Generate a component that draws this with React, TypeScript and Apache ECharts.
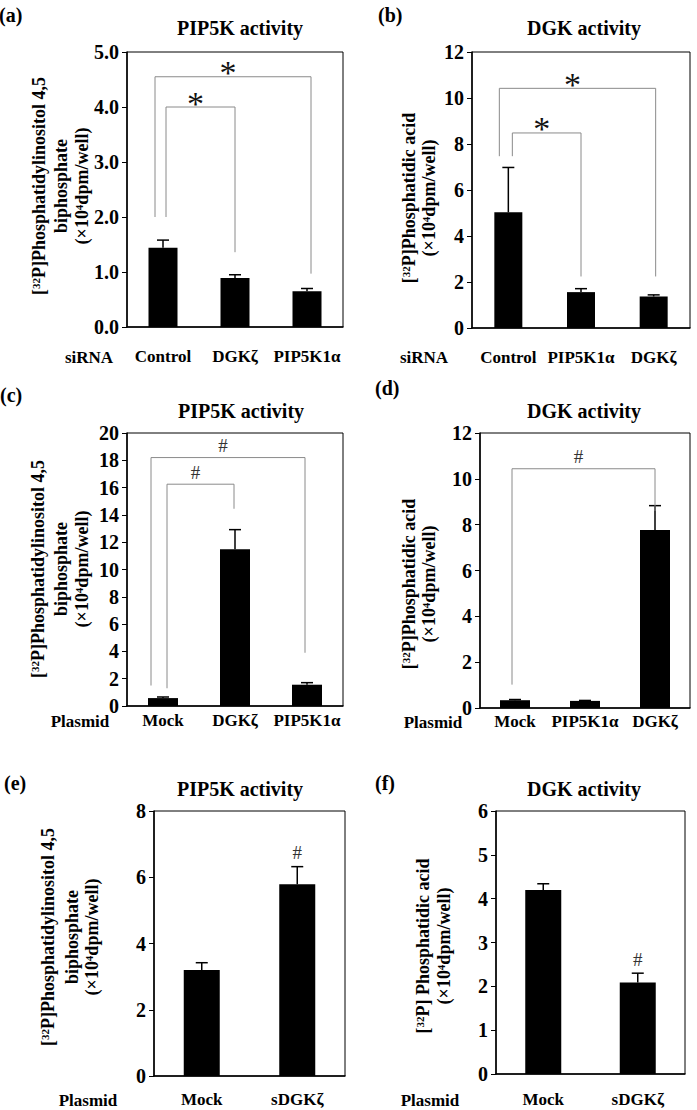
import React, { useEffect, useRef } from 'react';
import * as echarts from 'echarts';

const FONT = "'Liberation Serif', 'Times New Roman', serif";

// ---------- data ----------
const catsA = ['Control', 'DGKζ', 'PIP5K1α'];
const valsA = [1.44, 0.89, 0.65];
const errA = [0.14, 0.06, 0.05];
const bracketsA = [[0, 2, 4.55, 2.0, 0.97], [0, 1, 4.0, 2.0, 1.36]];
const marksA = ['*', '*'];

const catsB = ['Control', 'PIP5K1α', 'DGKζ'];
const valsB = [5.03, 1.56, 1.37];
const errB = [1.95, 0.15, 0.07];
const bracketsB = [[0, 2, 10.42, 7.47, 2.24], [0, 1, 8.48, 7.47, 2.24]];
const marksB = ['*', '*'];

const catsC = ['Mock', 'DGKζ', 'PIP5K1α'];
const valsC = [0.58, 11.48, 1.56];
const errC = [0.08, 1.44, 0.15];
const bracketsC = [[0, 2, 18.2, 1.5, 3.9], [0, 1, 16.25, 1.3, 14.45]];
const marksC = ['#', '#'];

const catsD = ['Mock', 'PIP5K1α', 'DGKζ'];
const valsD = [0.34, 0.31, 7.77];
const errD = [0.03, 0.02, 1.06];
const bracketsD = [[0, 2, 10.44, 1.02, 8.6]];
const marksD = ['#'];

const catsE = ['Mock', 'sDGKζ'];
const valsE = [3.2, 5.79];
const errE = [0.22, 0.53];
const barMarksE = ['', '#'];

const catsF = ['Mock', 'sDGKζ'];
const valsF = [4.2, 2.09];
const errF = [0.14, 0.21];
const barMarksF = ['', '#'];

const yTicksA = { max: 5, step: 1, decimals: 1 };
const yTicksB = { max: 12, step: 2, decimals: 0 };
const yTicksC = { max: 20, step: 2, decimals: 0 };
const yTicksD = { max: 12, step: 2, decimals: 0 };
const yTicksE = { max: 8, step: 2, decimals: 0 };
const yTicksF = { max: 6, step: 1, decimals: 0 };

const NAME_PIP = ['{n|[}{s|32}{n|P]Phosphatidylinositol 4,5}', '{n|biphosphate}', '{n|(×10}{s|4}{n|dpm/well)}'];
const NAME_DGK = ['{n|[}{s|32}{n|P]Phosphatidic acid}', '{n|(×10}{s|4}{n|dpm/well)}'];
const NAME_DGK2 = ['{n|[}{s|32}{n|P] Phosphatidic acid}', '{n|(×10}{s|4}{n|dpm/well)}'];

// ---------- layout ----------
const panels = [
  {
    tag: '(a)', title: 'PIP5K activity', row: 'siRNA', name: NAME_PIP,
    cats: catsA, vals: valsA, errs: errA, brackets: bracketsA, marks: marksA, barMarks: null, ticks: yTicksA,
    grid: { left: 127, top: 52, width: 216, height: 275 }, barWidth: 29,
    legOff: [[-8, 4], [3, 0]], labelMargin: 21,
    nameX: [39, 61, 82], nameY: 186,
    titlePos: [240, 28], tagPos: [-1, 15], rowPos: [89, 357],
  },
  {
    tag: '(b)', title: 'DGK activity', row: 'siRNA', name: NAME_DGK,
    cats: catsB, vals: valsB, errs: errB, brackets: bracketsB, marks: marksB, barMarks: null, ticks: yTicksB,
    grid: { left: 472, top: 52, width: 218, height: 276 }, barWidth: 28,
    legOff: [[-9, 2], [4, 0]], labelMargin: 21,
    nameX: [409, 429], nameY: 198,
    titlePos: [584, 28], tagPos: [378, 15], rowPos: [424, 357],
  },
  {
    tag: '(c)', title: 'PIP5K activity', row: 'Plasmid', name: NAME_PIP,
    cats: catsC, vals: valsC, errs: errC, brackets: bracketsC, marks: marksC, barMarks: null, ticks: yTicksC,
    grid: { left: 127, top: 433, width: 216, height: 273 }, barWidth: 30,
    legOff: [[-12, -2], [4, -1]], labelMargin: 6,
    nameX: [38, 61, 82], nameY: 569,
    titlePos: [241, 411], tagPos: [0, 395], rowPos: [80, 721],
  },
  {
    tag: '(d)', title: 'DGK activity', row: 'Plasmid', name: NAME_DGK,
    cats: catsD, vals: valsD, errs: errD, brackets: bracketsD, marks: marksD, barMarks: null, ticks: yTicksD,
    grid: { left: 480, top: 433, width: 210, height: 275 }, barWidth: 30,
    legOff: [[-3, 0]], labelMargin: 5,
    nameX: [409, 429], nameY: 584,
    titlePos: [584, 411], tagPos: [375, 388], rowPos: [433, 722],
  },
  {
    tag: '(e)', title: 'PIP5K activity', row: 'Plasmid', name: NAME_PIP,
    cats: catsE, vals: valsE, errs: errE, brackets: [], marks: [], barMarks: barMarksE, ticks: yTicksE,
    grid: { left: 154, top: 811, width: 191, height: 265 }, barWidth: 36,
    legOff: [], labelMargin: 15,
    nameX: [48, 72, 92], nameY: 937,
    titlePos: [240, 789], tagPos: [4, 783], rowPos: [88, 1100],
  },
  {
    tag: '(f)', title: 'DGK activity', row: 'Plasmid', name: NAME_DGK2,
    cats: catsF, vals: valsF, errs: errF, brackets: [], marks: [], barMarks: barMarksF, ticks: yTicksF,
    grid: { left: 496, top: 811, width: 189, height: 263 }, barWidth: 36,
    legOff: [], labelMargin: 17,
    nameX: [423, 444], nameY: 946,
    titlePos: [584, 789], tagPos: [375, 783], rowPos: [430, 1100],
  },
];

const RICH = {
  n: { fontFamily: FONT, fontWeight: 'bold', fontSize: 18, color: '#000', fill: '#000' },
  s: { fontFamily: FONT, fontWeight: 'bold', fontSize: 11, lineHeight: 11, verticalAlign: 'top', color: '#000', fill: '#000' },
};

function buildOption() {
  const grid: any[] = [];
  const xAxis: any[] = [];
  const yAxis: any[] = [];
  const series: any[] = [];
  const graphic: any[] = [];

  panels.forEach((p, k) => {
    grid.push({ ...p.grid, show: true, borderColor: '#000', borderWidth: 1, backgroundColor: 'transparent', containLabel: false });
    xAxis.push({
      type: 'category', gridIndex: k, data: p.cats,
      axisLine: { lineStyle: { color: '#000', width: 1.5 } },
      axisTick: { show: false },
      axisLabel: { interval: 0, color: '#000', fontFamily: FONT, fontWeight: 'bold', fontSize: 17, margin: p.labelMargin },
    });
    yAxis.push({
      type: 'value', gridIndex: k, min: 0, max: p.ticks.max, interval: p.ticks.step,
      splitLine: { show: false },
      axisLine: { show: true, lineStyle: { color: '#000', width: 1.5 } },
      axisTick: { show: true, length: 5, lineStyle: { color: '#000', width: 1 } },
      axisLabel: {
        color: '#000', fontFamily: FONT, fontWeight: 'bold', fontSize: 20, margin: 8,
        formatter: (v: number) => v.toFixed(p.ticks.decimals),
      },
    });

    series.push({
      type: 'bar', xAxisIndex: k, yAxisIndex: k, data: p.vals, barWidth: p.barWidth,
      itemStyle: { color: '#000' }, z: 2,
    });

    const errs = p.errs;
    const barMarks = p.barMarks;
    series.push({
      type: 'custom', xAxisIndex: k, yAxisIndex: k, z: 3, clip: false,
      data: p.vals.map((v, i) => [i, v, errs[i]]),
      encode: { x: 0, y: 1 },
      renderItem: (params: any, api: any) => {
        const x = api.value(0), v = api.value(1), e = api.value(2);
        const p0 = api.coord([x, v]);
        const p1 = api.coord([x, v + e]);
        const cap = 6;
        const children: any[] = [
          { type: 'line', shape: { x1: p0[0], y1: p0[1], x2: p1[0], y2: p1[1] }, style: { stroke: '#000', lineWidth: 1.5 } },
          { type: 'line', shape: { x1: p1[0] - cap, y1: p1[1], x2: p1[0] + cap, y2: p1[1] }, style: { stroke: '#000', lineWidth: 1.5 } },
        ];
        const m = barMarks ? barMarks[params.dataIndex] : '';
        if (m) {
          children.push({
            type: 'text', x: p1[0], y: p1[1] - 14,
            style: { text: m, fontFamily: FONT, fontSize: 19, fill: '#333', align: 'center', verticalAlign: 'middle' },
          });
        }
        return { type: 'group', children };
      },
    });

    if (p.brackets.length) {
      const br = p.brackets, marks = p.marks, off = p.legOff;
      series.push({
        type: 'custom', xAxisIndex: k, yAxisIndex: k, z: 4, clip: false,
        data: br.map((b) => [b[0], b[2]]),
        encode: { x: 0, y: 1 },
        renderItem: (params: any, api: any) => {
          const i = params.dataIndex;
          const [f, t, top, dl, dr] = br[i];
          const xl = api.coord([f, top])[0] + off[i][0];
          const xr = api.coord([t, top])[0] + off[i][1];
          const yt = api.coord([f, top])[1];
          const yl = api.coord([f, dl])[1];
          const yr = api.coord([t, dr])[1];
          const star = marks[i] === '*';
          return {
            type: 'group',
            children: [
              { type: 'polyline', shape: { points: [[xl, yl], [xl, yt], [xr, yt], [xr, yr]] }, style: { stroke: '#8a8a8a', lineWidth: 1, fill: null } },
              {
                type: 'text', x: (xl + xr) / 2 - 5, y: star ? yt - 4 : yt - 12,
                style: {
                  text: marks[i], fontFamily: FONT, fontSize: star ? 34 : 19, fill: star ? '#111' : '#333',
                  align: 'center', verticalAlign: 'middle',
                },
              },
            ],
          };
        },
      });
    }

    graphic.push({
      type: 'text', x: p.titlePos[0], y: p.titlePos[1],
      style: { text: p.title, fontFamily: FONT, fontWeight: 'bold', fontSize: 20, fill: '#000', align: 'center', verticalAlign: 'middle' },
    });
    graphic.push({
      type: 'text', x: p.tagPos[0], y: p.tagPos[1],
      style: { text: p.tag, fontFamily: FONT, fontWeight: 'bold', fontSize: 20, fill: '#000', align: 'left', verticalAlign: 'middle' },
    });
    graphic.push({
      type: 'text', x: p.rowPos[0], y: p.rowPos[1],
      style: { text: p.row, fontFamily: FONT, fontWeight: 'bold', fontSize: 17, fill: '#000', align: 'center', verticalAlign: 'middle' },
    });
    p.name.forEach((line, j) => {
      graphic.push({
        type: 'text', x: p.nameX[j], y: p.nameY, rotation: Math.PI / 2,
        style: { text: line, rich: RICH, fontFamily: FONT, fontWeight: 'bold', fontSize: 18, fill: '#000', align: 'center', verticalAlign: 'middle' },
      });
    });
  });

  return { animation: false, backgroundColor: '#fff', grid, xAxis, yAxis, series, graphic };
}

export default function App() {
  const ref = useRef<HTMLDivElement>(null);
  useEffect(() => {
    document.body.style.margin = '0';
    if (!ref.current) return;
    const chart = echarts.init(ref.current, undefined, { renderer: 'svg' });
    chart.setOption(buildOption() as any);
    return () => chart.dispose();
  }, []);
  return <div ref={ref} style={{ width: 697, height: 1110 }} />;
}
